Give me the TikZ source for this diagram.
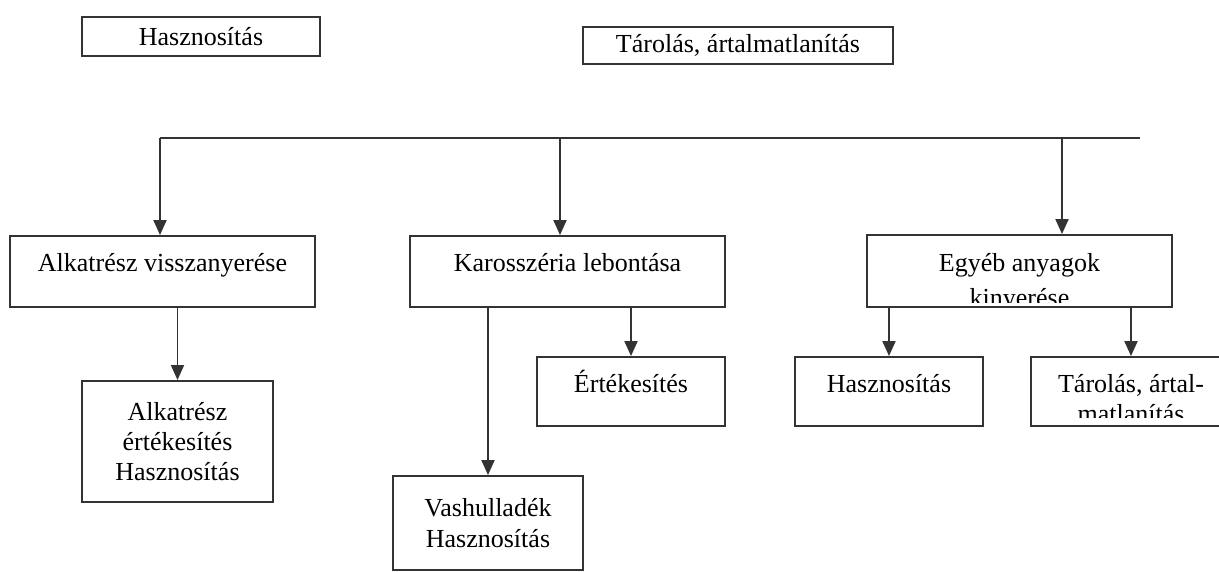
\documentclass[tikz,border=0pt]{standalone}
\usepackage{fontspec}
\setmainfont{Liberation Serif}
\usetikzlibrary{arrows.meta}

\tikzset{
  box/.style={draw=black!80, line width=1.1pt, inner sep=0pt, align=center},
  arr/.style={draw=black!80, line width=1.1pt, -{Triangle[length=0.30cm,width=0.26cm]}},
  link/.style={draw=black!80, line width=1.1pt},
}

\begin{document}
\begin{tikzpicture}[font=\fontsize{14.8}{17.3}\selectfont]

   \clip (0,0) rectangle (24.38,-11.42);

   % top row
   \node[box, minimum width=4.76cm, minimum height=0.78cm] (hasz) at (4.02,-0.73) {Hasznosítás};
   \node[box, minimum width=6.20cm, minimum height=0.74cm] (tarol) at (14.76,-0.91) {Tárolás, ártalmatlanítás};

   % main branch
   \coordinate (busL) at (3.20,-2.76);
   \coordinate (busM) at (11.20,-2.76);
   \coordinate (busR) at (21.24,-2.76);
   \coordinate (busE) at (22.80,-2.76);

   \node[box, minimum width=6.10cm, minimum height=1.42cm, text height=0.70cm, text depth=0.72cm] (alk) at (3.25,-5.43) {Alkatrész visszanyerése};
   \node[box, minimum width=6.30cm, minimum height=1.42cm, text height=0.70cm, text depth=0.72cm] (kar) at (11.35,-5.43) {Karosszéria lebontása};
   \node[box, minimum width=6.10cm, minimum height=1.44cm,
      path picture={
         \clip ([yshift=0.10cm]path picture bounding box.south west) rectangle (path picture bounding box.north east);
         \node[anchor=base] (egyA) at ([yshift=-0.72cm]path picture bounding box.north) {Egyéb anyagok};
         \node[anchor=base] (egyB) at ([yshift=-1.43cm]path picture bounding box.north) {kinyerése};
      }] (egy) at (20.39,-5.42) {};

   \draw[link] (busL) -- (busE);
   \draw[arr] (busL) -- (busL |- alk.north);
   \draw[arr] (busM) -- (busM |- kar.north);
   \draw[arr] (busR) -- (busR |- egy.north);

   % lower row
   \node[box, minimum width=3.82cm, minimum height=2.42cm] (alkert) at (3.55,-8.83) {Alkatrész\\értékesítés\\Hasznosítás};
   \node[box, minimum width=3.80cm, minimum height=1.88cm] (vas) at (9.76,-10.46) {Vashulladék\\Hasznosítás};
   \node[box, minimum width=3.76cm, minimum height=1.38cm, text height=0.70cm, text depth=0.68cm] (ert) at (12.62,-7.83) {Értékesítés};
   \node[box, minimum width=3.76cm, minimum height=1.38cm, text height=0.70cm, text depth=0.68cm] (hasz2) at (17.78,-7.83) {Hasznosítás};
   \node[box, minimum width=4.00cm, minimum height=1.38cm,
      path picture={
         \clip ([yshift=0.18cm]path picture bounding box.south west) rectangle (path picture bounding box.north east);
         \node[anchor=base] (tarA) at ([yshift=-0.70cm]path picture bounding box.north) {Tárolás, ártal-};
         \node[anchor=base] (tarB) at ([yshift=-1.30cm]path picture bounding box.north) {matlanítás};
      }] (tarol2) at (22.62,-7.83) {};

   \draw[arr] (alkert.north |- alk.south) -- (alkert.north);
   \draw[arr] (vas.north |- kar.south) -- (vas.north);
   \draw[arr] (ert.north |- kar.south) -- (ert.north);
   \draw[arr] (hasz2.north |- egy.south) -- (hasz2.north);
   \draw[arr] (tarol2.north |- egy.south) -- (tarol2.north);

\end{tikzpicture}
\end{document}
